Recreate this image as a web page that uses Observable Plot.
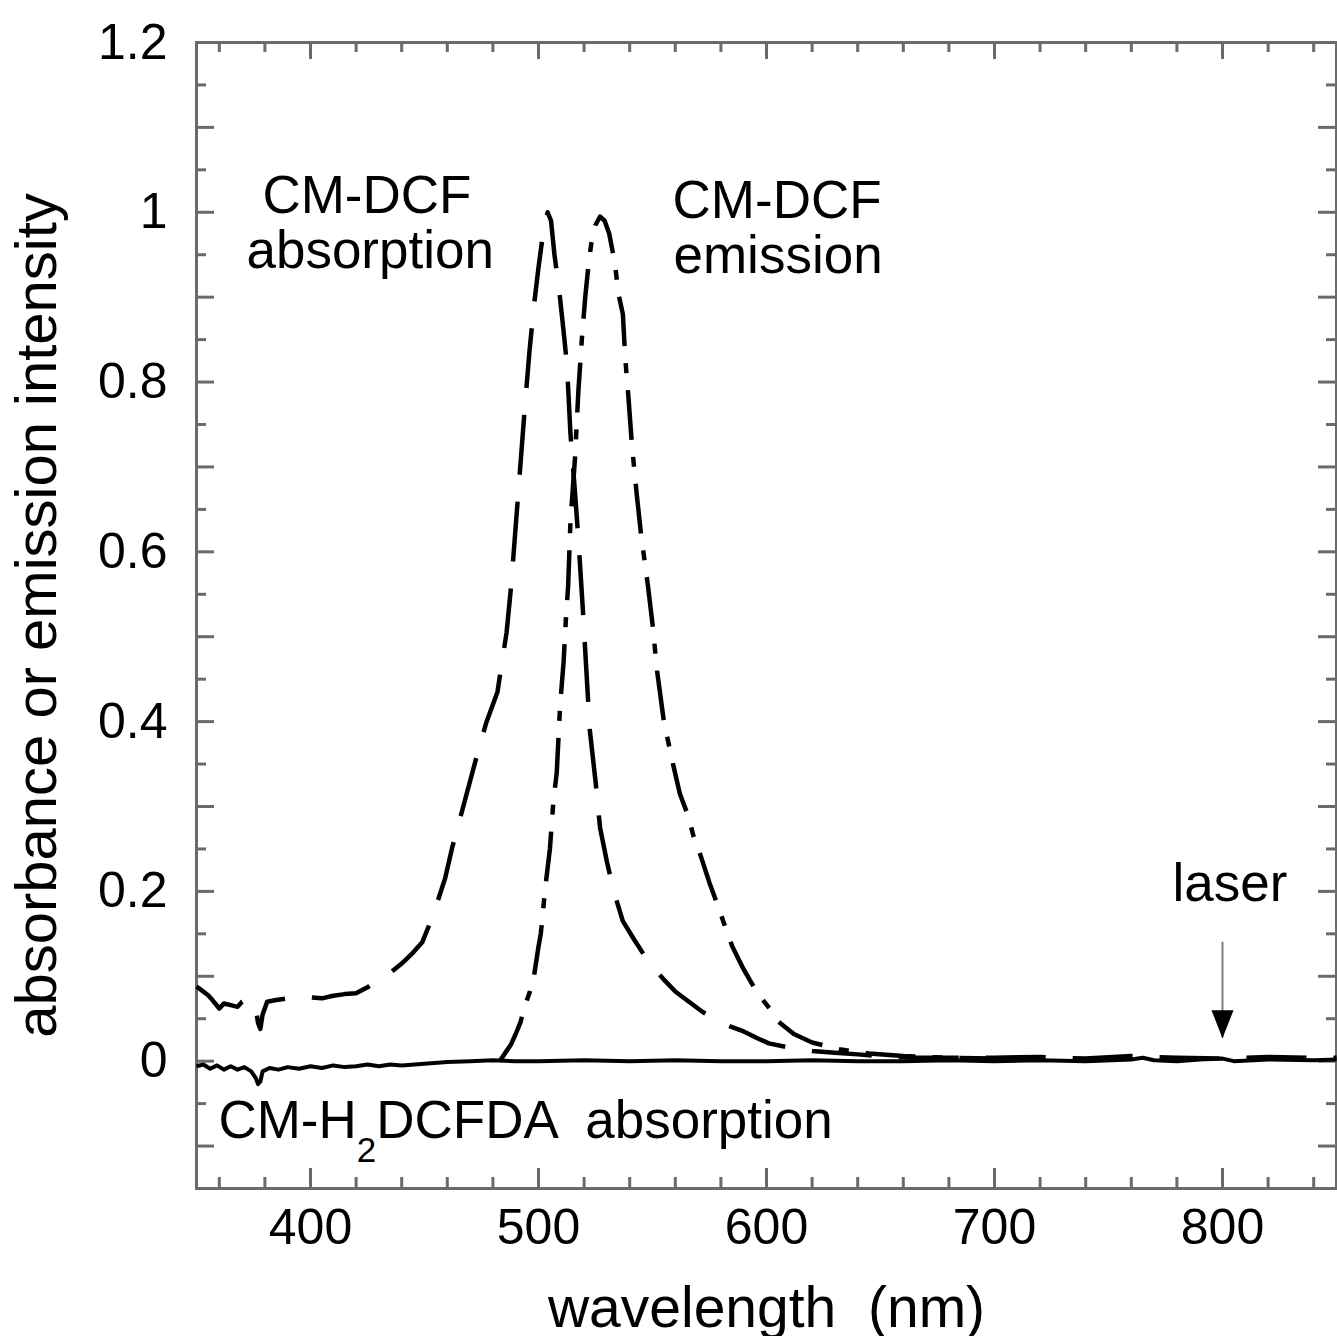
<!DOCTYPE html>
<html>
<head>
<meta charset="utf-8">
<script src="https://cdn.jsdelivr.net/npm/d3@7"></script>
<script src="https://cdn.jsdelivr.net/npm/@observablehq/plot@0.6"></script>
<style>
  html, body { margin: 0; padding: 0; background: white; }
  svg text { white-space: pre; }
</style>
</head>
<body>
<div id="chart"></div>
<script>
// ---- data ----
const absorptionNm = [350,352,355,357,360,362,365,368,370,373,375,376,377,378,379,381,385,390,395,400,405,410,415,420,425,430,435,440,445,449,452,455,459,462,466,469,473,477,482,486,488,490,492,494,496,498,500,502,504,505.5,507,509,511,512.5,514,516,517.5,519.5,521,522.5,525,527,530,533,537,542,548,555,560,566,572,578,584,590,596,601,610,620,630,640,650,665,680,700,720,740,760,780,800,820,840,850];
const absorptionValue = [0.088,0.084,0.078,0.072,0.062,0.068,0.066,0.064,0.070,0.074,0.068,0.062,0.045,0.038,0.055,0.070,0.072,0.074,0.073,0.075,0.074,0.077,0.079,0.080,0.087,0.096,0.104,0.115,0.128,0.140,0.160,0.182,0.215,0.250,0.290,0.320,0.360,0.398,0.435,0.505,0.560,0.630,0.700,0.770,0.835,0.890,0.935,0.975,1.000,0.990,0.950,0.910,0.860,0.820,0.740,0.670,0.615,0.530,0.460,0.390,0.330,0.275,0.235,0.200,0.165,0.143,0.118,0.096,0.082,0.070,0.058,0.049,0.041,0.035,0.027,0.021,0.016,0.012,0.010,0.008,0.006,0.004,0.004,0.004,0.005,0.003,0.006,0.004,0.003,0.005,0.004,0.004];

const emissionNm = [483,485,488,490,492,494,496,498,500,501,503,505,506.5,508,509.5,511,512,513,514,516,517.5,519,520.5,522,523.5,525,527,529,531,533.5,535,537,538,539.5,541,543,545,548,550,552,555,559,562,565.5,568,571,575,578,581,585,590,596,602,605,612,620,632,645,660,680,700,720];
const emissionValue = [0.000,0.008,0.020,0.032,0.045,0.065,0.080,0.100,0.135,0.150,0.205,0.250,0.305,0.340,0.420,0.470,0.520,0.560,0.635,0.710,0.790,0.850,0.900,0.940,0.970,0.985,0.995,0.990,0.975,0.940,0.905,0.880,0.830,0.780,0.725,0.670,0.620,0.560,0.515,0.460,0.400,0.350,0.315,0.290,0.265,0.243,0.210,0.188,0.165,0.135,0.108,0.080,0.060,0.047,0.032,0.022,0.014,0.009,0.006,0.004,0.003,0.002];

const probeNm = [350,353,356,359,362,365,368,371,374,376,377,378,379,382,386,390,395,400,405,410,415,420,425,430,435,440,450,460,470,480,490,500,520,540,560,580,600,620,640,660,680,700,720,740,760,765,770,780,790,800,805,820,840,850];
const probeValue = [-0.006,-0.004,-0.009,-0.005,-0.010,-0.006,-0.010,-0.007,-0.012,-0.020,-0.027,-0.024,-0.012,-0.008,-0.010,-0.007,-0.009,-0.006,-0.008,-0.005,-0.007,-0.006,-0.004,-0.006,-0.004,-0.005,-0.003,-0.001,0.000,0.001,0.000,0.000,0.001,0.000,0.001,0.000,0.000,0.001,0.000,0.000,0.001,0.000,0.001,0.000,0.002,0.004,0.001,0.000,0.002,0.003,0.000,0.002,0.001,0.002];

const xTickValues = [400, 500, 600, 700, 800];
const xMinorTicks = [360,380,420,440,460,480,520,540,560,580,620,640,660,680,720,740,760,780,820,840];
const yTickValues = [0, 0.2, 0.4, 0.6, 0.8, 1, 1.2];
const yTenthTicks = [-0.1,0,0.1,0.2,0.3,0.4,0.5,0.6,0.7,0.8,0.9,1.0,1.1];
const yMinorTicks = [-0.05,0.05,0.15,0.25,0.35,0.45,0.55,0.65,0.75,0.85,0.95,1.05,1.15];

const annotations = [
  {label: "CM-DCF", x: 378.9, y: 0.9986},
  {label: "absorption", x: 371.9, y: 0.9338},
  {label: "CM-DCF", x: 558.8, y: 0.9927},
  {label: "emission", x: 559.2, y: 0.9279},
  {label: "laser", x: 778.1, y: 0.189},
  {label: "CM-H2DCFDA  absorption", x: 359.6, y: -0.091}
];
const laserArrow = [{x: 800, yTop: 0.14, yTip: 0.027}];

const xLabel = "wavelength  (nm)";
const yLabel = "absorbance or emission intensity";

// ---- build tables ----
const zip = (xs, ys) => xs.map((x, i) => ({nm: x, v: ys[i]}));
const absorption = zip(absorptionNm, absorptionValue);
const emission = zip(emissionNm, emissionValue);
const probe = zip(probeNm, probeValue);

const W = 1337, H = 1336, mL = 196, mR = 1, mT = 42, mB = 148;
const FH = H - mT - mB, FW = W - mL - mR;
const gridColor = "#6a6a6a";

const arrowHead = {
  draw(context) {
    context.moveTo(0, 0);
    context.lineTo(-11, -28);
    context.lineTo(11, -28);
    context.closePath();
  }
};

const chart = Plot.plot({
  width: W, height: H,
  marginLeft: mL, marginRight: mR, marginTop: mT, marginBottom: mB,
  x: {domain: [350, 850], axis: null},
  y: {domain: [-0.15, 1.2], axis: null},
  style: {fontFamily: "'Liberation Sans', Arial, sans-serif", fontSize: "50px", color: "black", background: "white", overflow: "visible"},
  marks: [
    // ticks (inward)
    Plot.tickX(xTickValues, {x: d => d, insetTop: FH - 20, stroke: gridColor, strokeWidth: 3}),
    Plot.tickX(xMinorTicks, {x: d => d, insetTop: FH - 11, stroke: gridColor, strokeWidth: 3}),
    Plot.tickX(xTickValues, {x: d => d, insetBottom: FH - 17, stroke: gridColor, strokeWidth: 3}),
    Plot.tickX(xMinorTicks, {x: d => d, insetBottom: FH - 10, stroke: gridColor, strokeWidth: 3}),
    Plot.tickY(yTenthTicks, {y: d => d, insetRight: FW - 18, stroke: gridColor, strokeWidth: 3}),
    Plot.tickY(yMinorTicks, {y: d => d, insetRight: FW - 10, stroke: gridColor, strokeWidth: 3}),
    Plot.tickY(yTenthTicks, {y: d => d, insetLeft: FW - 18, stroke: gridColor, strokeWidth: 3}),
    Plot.tickY(yMinorTicks, {y: d => d, insetLeft: FW - 10, stroke: gridColor, strokeWidth: 3}),
    Plot.frame({stroke: gridColor, strokeWidth: 3}),
    // axes labels
    Plot.axisX({ticks: xTickValues, tickSize: 0, tickPadding: 20, label: null, fontSize: 50, tickFormat: d => `${d}`}),
    Plot.axisY({ticks: yTickValues, tickSize: 0, tickPadding: 29, label: null, fontSize: 50, tickFormat: d => `${d}`}),
    Plot.text([xLabel], {text: d => d, frameAnchor: "bottom", dy: 138, lineAnchor: "bottom", fontSize: 57, fill: "black"}),
    Plot.text([yLabel], {text: d => d, frameAnchor: "left", rotate: -90, dx: -141, lineAnchor: "bottom", textAnchor: "middle", fontSize: 58, fill: "black"}),
    // curves
    Plot.line(probe, {x: "nm", y: "v", stroke: "black", strokeWidth: 4, strokeLinecap: "butt"}),
    Plot.line(absorption, {x: "nm", y: "v", stroke: "black", strokeWidth: 4.5, strokeDasharray: "60,27", strokeLinecap: "butt"}),
    Plot.line(emission, {x: "nm", y: "v", stroke: "black", strokeWidth: 4.5, strokeDasharray: "50,17,10,17", strokeLinecap: "butt"}),
    // laser arrow
    Plot.ruleX(laserArrow, {x: "x", y1: "yTop", y2: "yTip", stroke: "#7a7a7a", strokeWidth: 2}),
    Plot.dot(laserArrow, {x: "x", y: "yTip", symbol: arrowHead, fill: "black", stroke: "none"}),
    // annotations
    Plot.text(annotations, {x: "x", y: "y", text: "label", textAnchor: "start", lineAnchor: "bottom", fontSize: 53, fill: "black"})
  ]
});

// subscript for CM-H2DCFDA
const NS = "http://www.w3.org/2000/svg";
chart.querySelectorAll("text").forEach(t => {
  if (t.textContent === "CM-H2DCFDA  absorption") {
    t.textContent = "";
    const parts = [["CM-H", null, null], ["2", "24", "35"], ["DCFDA  absorption", "-24", null]];
    for (const [s, dy, fs] of parts) {
      const ts = document.createElementNS(NS, "tspan");
      ts.textContent = s;
      if (dy) ts.setAttribute("dy", dy);
      if (fs) ts.setAttribute("font-size", fs);
      t.appendChild(ts);
    }
  }
});

document.getElementById("chart").appendChild(chart);
</script>
</body>
</html>
